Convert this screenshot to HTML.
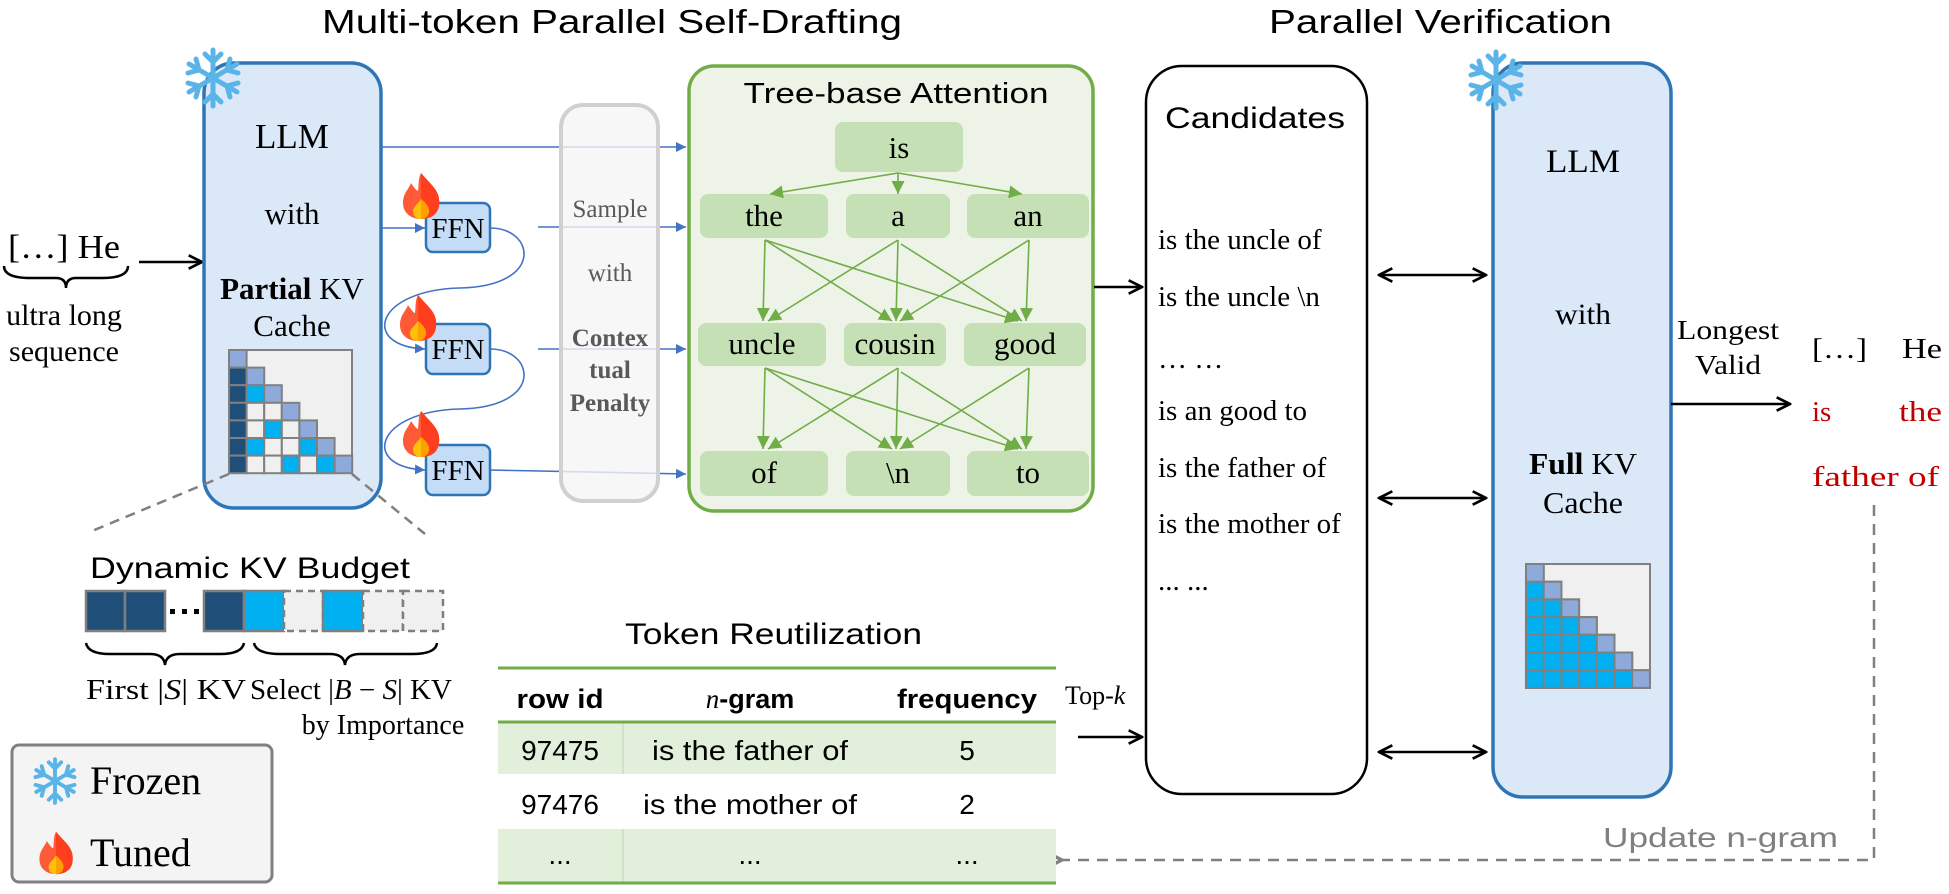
<!DOCTYPE html>
<html><head><meta charset="utf-8"><style>
html,body{margin:0;padding:0;background:#fff;width:1949px;height:894px;overflow:hidden}
svg{display:block}
.serif{font-family:"Liberation Serif",serif}
.sans{font-family:"Liberation Sans",sans-serif}
</style></head><body>
<svg width="1949" height="894" viewBox="0 0 1949 894" xmlns="http://www.w3.org/2000/svg">
<defs>
<marker id="ab" viewBox="0 0 10 10" refX="10" refY="5" markerWidth="10" markerHeight="10" markerUnits="userSpaceOnUse" orient="auto"><path d="M0,0 L10,5 L0,10 z" fill="#4472c4"/></marker>
<marker id="ag" viewBox="0 0 10 10" refX="10" refY="5" markerWidth="13" markerHeight="13" markerUnits="userSpaceOnUse" orient="auto"><path d="M0,0 L10,5 L0,10 z" fill="#70ad47"/></marker>
<marker id="ak" viewBox="0 0 12 12" refX="11" refY="6" markerWidth="16" markerHeight="16" markerUnits="userSpaceOnUse" orient="auto"><path d="M1,1 L11,6 L1,11" fill="none" stroke="#000" stroke-width="2"/></marker>
<marker id="aks" viewBox="0 0 12 12" refX="1" refY="6" markerWidth="16" markerHeight="16" markerUnits="userSpaceOnUse" orient="auto"><path d="M11,1 L1,6 L11,11" fill="none" stroke="#000" stroke-width="2"/></marker>
<marker id="agr" viewBox="0 0 12 12" refX="1" refY="6" markerWidth="16" markerHeight="16" markerUnits="userSpaceOnUse" orient="auto"><path d="M11,1 L1,6 L11,11" fill="none" stroke="#808080" stroke-width="2.5"/></marker>
<g id="snow" stroke="#5ab4e8" stroke-width="5" stroke-linecap="round" fill="none">
<line x1="0" y1="-28" x2="0" y2="28"/><line x1="-24" y1="-14" x2="24" y2="14"/><line x1="-24" y1="14" x2="24" y2="-14"/>
<path d="M-8,-24 L0,-16 L8,-24 M-8,24 L0,16 L8,24"/>
<path d="M-25,-5 L-14,-8 L-17,-19 M25,5 L14,8 L17,19"/>
<path d="M-25,5 L-14,8 L-17,19 M25,-5 L14,-8 L17,-19"/>
</g>
<g id="fire">
<path d="M0,-22 C10,-10 20,-4 18,10 C17,20 9,24 0,24 C-10,24 -18,18 -18,8 C-18,-2 -12,-6 -10,-12 C-6,-6 -4,-4 -3,-4 C-2,-12 -3,-16 0,-22 z" fill="#ff5a36"/>
<path d="M0,-22 C10,-10 20,-4 18,10 C17,20 9,24 0,24 z" fill="#ff3d1f"/>
<path d="M0,4 C5,8 8,12 8,16 C8,21 4,24 0,24 C-5,24 -8,21 -8,16 C-8,12 -4,10 0,4 z" fill="#ffc107"/>
<path d="M0,4 C5,8 8,12 8,16 C8,21 4,24 0,24 z" fill="#ffa000"/>
</g>
</defs>

<text x="322" y="33" class="sans" font-size="33" textLength="580" lengthAdjust="spacingAndGlyphs">Multi-token Parallel Self-Drafting</text>
<text x="1269" y="33" class="sans" font-size="33" textLength="343" lengthAdjust="spacingAndGlyphs">Parallel Verification</text>

<text x="8" y="258" class="serif" font-size="34" textLength="112" lengthAdjust="spacingAndGlyphs">[…] He</text>
<path d="M4,266 Q4,278 30,278 L56,278 Q66,278 66,288 Q66,278 76,278 L102,278 Q128,278 128,266" fill="none" stroke="#000" stroke-width="2.5"/>
<text x="64" y="325" class="serif" font-size="30" text-anchor="middle">ultra long</text>
<text x="64" y="361" class="serif" font-size="30" text-anchor="middle">sequence</text>
<line x1="139" y1="262" x2="202" y2="262" stroke="#000" stroke-width="2.5" marker-end="url(#ak)"/>

<rect x="204" y="63" width="177" height="445" rx="30" fill="#dae8f8" stroke="#2e75b6" stroke-width="3.5"/>
<use href="#snow" x="213" y="78"/>
<text x="292" y="148" class="serif" font-size="35" text-anchor="middle">LLM</text>
<text x="292" y="224" class="serif" font-size="31" text-anchor="middle">with</text>
<text x="292" y="299" class="serif" font-size="31" text-anchor="middle"><tspan font-weight="bold">Partial</tspan> KV</text>
<text x="292" y="336" class="serif" font-size="31" text-anchor="middle">Cache</text>
<g stroke="#808080" stroke-width="2">
<rect x="229" y="350" width="123" height="123" fill="#f0f0f0"/>
<rect x="229" y="350" width="17.6" height="17.6" fill="#8eaadb"/>
<rect x="229" y="367.6" width="17.6" height="17.6" fill="#1f4e79"/><rect x="246.6" y="367.6" width="17.6" height="17.6" fill="#8eaadb"/>
<rect x="229" y="385.2" width="17.6" height="17.6" fill="#1f4e79"/><rect x="246.6" y="385.2" width="17.6" height="17.6" fill="#00b0f0"/><rect x="264.2" y="385.2" width="17.6" height="17.6" fill="#8eaadb"/>
<rect x="229" y="402.8" width="17.6" height="17.6" fill="#1f4e79"/><rect x="246.6" y="402.8" width="17.6" height="17.6" fill="#f0f0f0"/><rect x="264.2" y="402.8" width="17.6" height="17.6" fill="#f0f0f0"/><rect x="281.8" y="402.8" width="17.6" height="17.6" fill="#8eaadb"/>
<rect x="229" y="420.4" width="17.6" height="17.6" fill="#1f4e79"/><rect x="246.6" y="420.4" width="17.6" height="17.6" fill="#f0f0f0"/><rect x="264.2" y="420.4" width="17.6" height="17.6" fill="#00b0f0"/><rect x="281.8" y="420.4" width="17.6" height="17.6" fill="#f0f0f0"/><rect x="299.4" y="420.4" width="17.6" height="17.6" fill="#8eaadb"/>
<rect x="229" y="438" width="17.6" height="17.6" fill="#1f4e79"/><rect x="246.6" y="438" width="17.6" height="17.6" fill="#00b0f0"/><rect x="264.2" y="438" width="17.6" height="17.6" fill="#f0f0f0"/><rect x="281.8" y="438" width="17.6" height="17.6" fill="#f0f0f0"/><rect x="299.4" y="438" width="17.6" height="17.6" fill="#00b0f0"/><rect x="317" y="438" width="17.6" height="17.6" fill="#8eaadb"/>
<rect x="229" y="455.6" width="17.6" height="17.6" fill="#1f4e79"/><rect x="246.6" y="455.6" width="17.6" height="17.6" fill="#f0f0f0"/><rect x="264.2" y="455.6" width="17.6" height="17.6" fill="#f0f0f0"/><rect x="281.8" y="455.6" width="17.6" height="17.6" fill="#00b0f0"/><rect x="299.4" y="455.6" width="17.6" height="17.6" fill="#f0f0f0"/><rect x="317" y="455.6" width="17.6" height="17.6" fill="#00b0f0"/><rect x="334.6" y="455.6" width="17.6" height="17.6" fill="#8eaadb"/>
</g>
<line x1="229" y1="474" x2="92" y2="531" stroke="#808080" stroke-width="2.5" stroke-dasharray="10,7"/>
<line x1="352" y1="474" x2="425" y2="534" stroke="#808080" stroke-width="2.5" stroke-dasharray="10,7"/>

<text x="90" y="578" class="sans" font-size="30" textLength="320" lengthAdjust="spacingAndGlyphs">Dynamic KV Budget</text>
<g stroke="#7f7f7f" stroke-width="2.5">
<rect x="86" y="591" width="39" height="40" fill="#1f4e79"/>
<rect x="125" y="591" width="40" height="40" fill="#1f4e79"/>
<rect x="204" y="591" width="40" height="40" fill="#1f4e79"/>
<rect x="244" y="591" width="40" height="40" fill="#00b0f0"/>
<rect x="284" y="591" width="39" height="40" fill="#f0f0f0" stroke-dasharray="7,5"/>
<rect x="323" y="591" width="40" height="40" fill="#00b0f0"/>
<rect x="363" y="591" width="40" height="40" fill="#f0f0f0" stroke-dasharray="7,5"/>
<rect x="403" y="591" width="40" height="40" fill="#f0f0f0" stroke-dasharray="7,5"/>
</g>
<g fill="#000"><rect x="170" y="609" width="5" height="5"/><rect x="182" y="609" width="5" height="5"/><rect x="194" y="609" width="5" height="5"/></g>
<path d="M86,643 Q88,654 110,654 L150,654 Q164,654 165,665 Q166,654 180,654 L220,654 Q242,654 244,643" fill="none" stroke="#000" stroke-width="2.5"/>
<path d="M254,643 Q256,654 280,654 L330,654 Q344,654 345,665 Q346,654 360,654 L412,654 Q436,654 437,643" fill="none" stroke="#000" stroke-width="2.5"/>
<text x="86" y="699" class="serif" font-size="28" textLength="160" lengthAdjust="spacingAndGlyphs">First |<tspan font-style="italic">S</tspan>| KV</text>
<text x="250" y="699" class="serif" font-size="28" textLength="202" lengthAdjust="spacingAndGlyphs">Select |<tspan font-style="italic">B</tspan> − <tspan font-style="italic">S</tspan>| KV</text>
<text x="383" y="734" class="serif" font-size="28" text-anchor="middle">by Importance</text>

<rect x="12" y="745" width="260" height="137" rx="7" fill="#f4f4f4" stroke="#808080" stroke-width="3"/>
<g transform="translate(55,781) scale(0.78)"><use href="#snow"/></g>
<text x="90" y="794" class="serif" font-size="40">Frozen</text>
<g transform="translate(56,852) scale(0.92)"><use href="#fire"/></g>
<text x="90" y="866" class="serif" font-size="40">Tuned</text>

<g stroke="#4472c4" stroke-width="1.6" fill="none">
<line x1="381" y1="147" x2="686" y2="147" marker-end="url(#ab)"/>
<line x1="381" y1="228" x2="425" y2="228" marker-end="url(#ab)"/>
<line x1="538" y1="227" x2="686" y2="227" marker-end="url(#ab)"/>
<line x1="538" y1="349" x2="686" y2="349" marker-end="url(#ab)"/>
<path d="M490,470 L686,474" marker-end="url(#ab)"/>
<path d="M490,228 C535,228 545,286 460,288 C375,290 360,346 425,349" marker-end="url(#ab)"/>
<path d="M490,349 C535,349 545,407 460,409 C375,411 360,467 425,470" marker-end="url(#ab)"/>
</g>
<g fill="#c4dcf6" stroke="#2e75b6" stroke-width="2.5">
<rect x="426" y="203" width="64" height="49" rx="7"/>
<rect x="426" y="324" width="64" height="50" rx="7"/>
<rect x="426" y="445" width="64" height="50" rx="7"/>
</g>
<g class="serif" font-size="29" text-anchor="middle"><text x="458" y="238">FFN</text><text x="458" y="359">FFN</text><text x="458" y="480">FFN</text></g>
<use href="#fire" x="421" y="195"/>
<use href="#fire" x="418" y="317"/>
<use href="#fire" x="421" y="433"/>

<rect x="561" y="105" width="97" height="396" rx="22" fill="#f5f5f5" fill-opacity="0.8" stroke="#d0d0d0" stroke-width="4"/>
<g class="serif" font-size="25" text-anchor="middle" fill="#595959">
<text x="610" y="217">Sample</text>
<text x="610" y="281">with</text>
<text x="610" y="346" font-weight="bold">Contex</text>
<text x="610" y="378" font-weight="bold">tual</text>
<text x="610" y="411" font-weight="bold">Penalty</text>
</g>

<rect x="689" y="66" width="404" height="445" rx="25" fill="#edf3e6" stroke="#70ad47" stroke-width="3.5"/>
<text x="896" y="103" class="sans" font-size="29" text-anchor="middle" textLength="305" lengthAdjust="spacingAndGlyphs">Tree-base Attention</text>
<g fill="#c5e0b4">
<rect x="835" y="122" width="128" height="50" rx="8"/>
<rect x="700" y="194" width="128" height="44" rx="8"/><rect x="846" y="194" width="104" height="44" rx="8"/><rect x="967" y="194" width="122" height="44" rx="8"/>
<rect x="698" y="323" width="128" height="43" rx="8"/><rect x="844" y="323" width="102" height="43" rx="8"/><rect x="964" y="323" width="122" height="43" rx="8"/>
<rect x="700" y="451" width="128" height="45" rx="8"/><rect x="846" y="451" width="104" height="45" rx="8"/><rect x="967" y="451" width="122" height="45" rx="8"/>
</g>
<g stroke="#70ad47" stroke-width="1.6" marker-end="url(#ag)">
<line x1="898" y1="173" x2="770" y2="194"/><line x1="898" y1="173" x2="898" y2="194"/><line x1="898" y1="173" x2="1022" y2="194"/>
<line x1="765" y1="240" x2="763" y2="321"/><line x1="765" y1="240" x2="892" y2="321"/><line x1="765" y1="240" x2="1018" y2="321"/>
<line x1="898" y1="240" x2="768" y2="321"/><line x1="898" y1="240" x2="896" y2="321"/><line x1="901" y1="244" x2="1022" y2="321"/>
<line x1="1029" y1="240" x2="900" y2="321"/><line x1="1029" y1="240" x2="1026" y2="321"/>
<line x1="765" y1="368" x2="763" y2="449"/><line x1="765" y1="368" x2="892" y2="449"/><line x1="765" y1="368" x2="1018" y2="449"/>
<line x1="898" y1="368" x2="768" y2="449"/><line x1="898" y1="368" x2="896" y2="449"/><line x1="901" y1="372" x2="1022" y2="449"/>
<line x1="1029" y1="368" x2="900" y2="449"/><line x1="1029" y1="368" x2="1026" y2="449"/>
</g>
<g class="serif" font-size="31" text-anchor="middle">
<text x="899" y="158">is</text>
<text x="764" y="226">the</text><text x="898" y="226">a</text><text x="1028" y="226">an</text>
<text x="762" y="354">uncle</text><text x="895" y="354">cousin</text><text x="1025" y="354">good</text>
<text x="764" y="483">of</text><text x="898" y="483">\n</text><text x="1028" y="483">to</text>
</g>
<line x1="1094" y1="287" x2="1142" y2="287" stroke="#000" stroke-width="2.5" marker-end="url(#ak)"/>

<rect x="1146" y="66" width="221" height="728" rx="36" fill="#fff" stroke="#000" stroke-width="2.5"/>
<text x="1255" y="128" class="sans" font-size="30" text-anchor="middle" textLength="180" lengthAdjust="spacingAndGlyphs">Candidates</text>
<g class="serif" font-size="29">
<text x="1158" y="249">is the uncle of</text>
<text x="1158" y="306">is the uncle \n</text>
<text x="1158" y="368">… …</text>
<text x="1158" y="420">is an good to</text>
<text x="1158" y="477">is the father of</text>
<text x="1158" y="533">is the mother of</text>
<text x="1158" y="590">... ...</text>
</g>
<g stroke="#000" stroke-width="2.5" marker-start="url(#aks)" marker-end="url(#ak)">
<line x1="1379" y1="275" x2="1486" y2="275"/>
<line x1="1379" y1="498" x2="1486" y2="498"/>
<line x1="1379" y1="752" x2="1486" y2="752"/>
</g>

<rect x="1493" y="63" width="178" height="734" rx="30" fill="#dae8f8" stroke="#2e75b6" stroke-width="3.5"/>
<use href="#snow" x="1496" y="80"/>
<g class="serif" text-anchor="middle">
<text x="1583" y="172" font-size="33" textLength="74" lengthAdjust="spacingAndGlyphs">LLM</text>
<text x="1583" y="324" font-size="30" textLength="56" lengthAdjust="spacingAndGlyphs">with</text>
<text x="1583" y="474" font-size="31" textLength="108" lengthAdjust="spacingAndGlyphs"><tspan font-weight="bold">Full</tspan> KV</text>
<text x="1583" y="513" font-size="31" textLength="80" lengthAdjust="spacingAndGlyphs">Cache</text>
</g>
<g stroke="#808080" stroke-width="2">
<rect x="1526" y="564" width="124" height="124" fill="#f0f0f0"/>
<path d="M1526,564 h17.7 v17.7 h17.7 v17.7 h17.7 v17.7 h17.7 v17.7 h17.7 v17.7 h17.7 v17.7 h17.7 v17.7 h-124 z" fill="#00b0f0"/>
<g fill="#8eaadb">
<rect x="1526" y="564" width="17.7" height="17.7"/><rect x="1543.7" y="581.7" width="17.7" height="17.7"/><rect x="1561.4" y="599.4" width="17.7" height="17.7"/><rect x="1579.1" y="617.1" width="17.7" height="17.7"/><rect x="1596.8" y="634.8" width="17.7" height="17.7"/><rect x="1614.5" y="652.5" width="17.7" height="17.7"/><rect x="1632.2" y="670.2" width="17.7" height="17.7"/>
</g>
<path d="M1526,599.4 h35.4 M1526,617.1 h53.1 M1526,634.8 h70.8 M1526,652.5 h88.5 M1526,670.2 h106.2 M1543.7,599.4 v88.6 M1561.4,617.1 v70.9 M1579.1,634.8 v53.2 M1596.8,652.5 v35.5 M1614.5,670.2 v17.8" fill="none"/>
</g>
<g class="serif" font-size="27" text-anchor="middle">
<text x="1728" y="339" textLength="102" lengthAdjust="spacingAndGlyphs">Longest</text>
<text x="1728" y="374" textLength="66" lengthAdjust="spacingAndGlyphs">Valid</text>
</g>
<line x1="1671" y1="404" x2="1790" y2="404" stroke="#000" stroke-width="2.5" marker-end="url(#ak)"/>
<g class="serif" font-size="29">
<text x="1812" y="358" textLength="55" lengthAdjust="spacingAndGlyphs">[…]</text>
<text x="1902" y="358" textLength="40" lengthAdjust="spacingAndGlyphs">He</text>
<text x="1812" y="421" fill="#c00000">is</text>
<text x="1942" y="421" fill="#c00000" text-anchor="end" textLength="43" lengthAdjust="spacingAndGlyphs">the</text>
<text x="1812" y="486" fill="#c00000" textLength="127" lengthAdjust="spacingAndGlyphs">father of</text>
</g>
<path d="M1874,505 V860 H1062" fill="none" stroke="#808080" stroke-width="2.5" stroke-dasharray="11,8" marker-end="url(#agr)"/>
<text x="1603" y="847" class="sans" font-size="28" fill="#808080" textLength="235" lengthAdjust="spacingAndGlyphs">Update n-gram</text>

<text x="625" y="644" class="sans" font-size="30" textLength="297" lengthAdjust="spacingAndGlyphs">Token Reutilization</text>
<rect x="498" y="722" width="558" height="52" fill="#e2efda"/>
<rect x="498" y="829" width="558" height="54" fill="#e2efda"/>
<line x1="623" y1="722" x2="623" y2="774" stroke="#c9dfbd" stroke-width="1.5"/>
<line x1="623" y1="829" x2="623" y2="883" stroke="#c9dfbd" stroke-width="1.5"/>
<g stroke="#70ad47" stroke-width="3"><line x1="498" y1="668" x2="1056" y2="668"/><line x1="498" y1="722" x2="1056" y2="722"/><line x1="498" y1="883" x2="1056" y2="883"/></g>
<g class="sans" text-anchor="middle">
<text x="560" y="708" font-size="27" font-weight="bold" textLength="87" lengthAdjust="spacingAndGlyphs">row id</text>
<text x="750" y="708" font-size="27" font-weight="bold"><tspan font-style="italic" font-weight="normal" font-family="Liberation Serif">n</tspan>-gram</text>
<text x="967" y="708" font-size="27" font-weight="bold" textLength="140" lengthAdjust="spacingAndGlyphs">frequency</text>
<g font-size="28">
<text x="560" y="760">97475</text><text x="750" y="760" textLength="196" lengthAdjust="spacingAndGlyphs">is the father of</text><text x="967" y="760">5</text>
<text x="560" y="814">97476</text><text x="750" y="814" textLength="214" lengthAdjust="spacingAndGlyphs">is the mother of</text><text x="967" y="814">2</text>
<text x="560" y="864">...</text><text x="750" y="864">...</text><text x="967" y="864">...</text>
</g>
</g>
<text x="1065" y="704" class="serif" font-size="26">Top-<tspan font-style="italic">k</tspan></text>
<line x1="1078" y1="737" x2="1142" y2="737" stroke="#000" stroke-width="2.5" marker-end="url(#ak)"/>
</svg>
</body></html>
